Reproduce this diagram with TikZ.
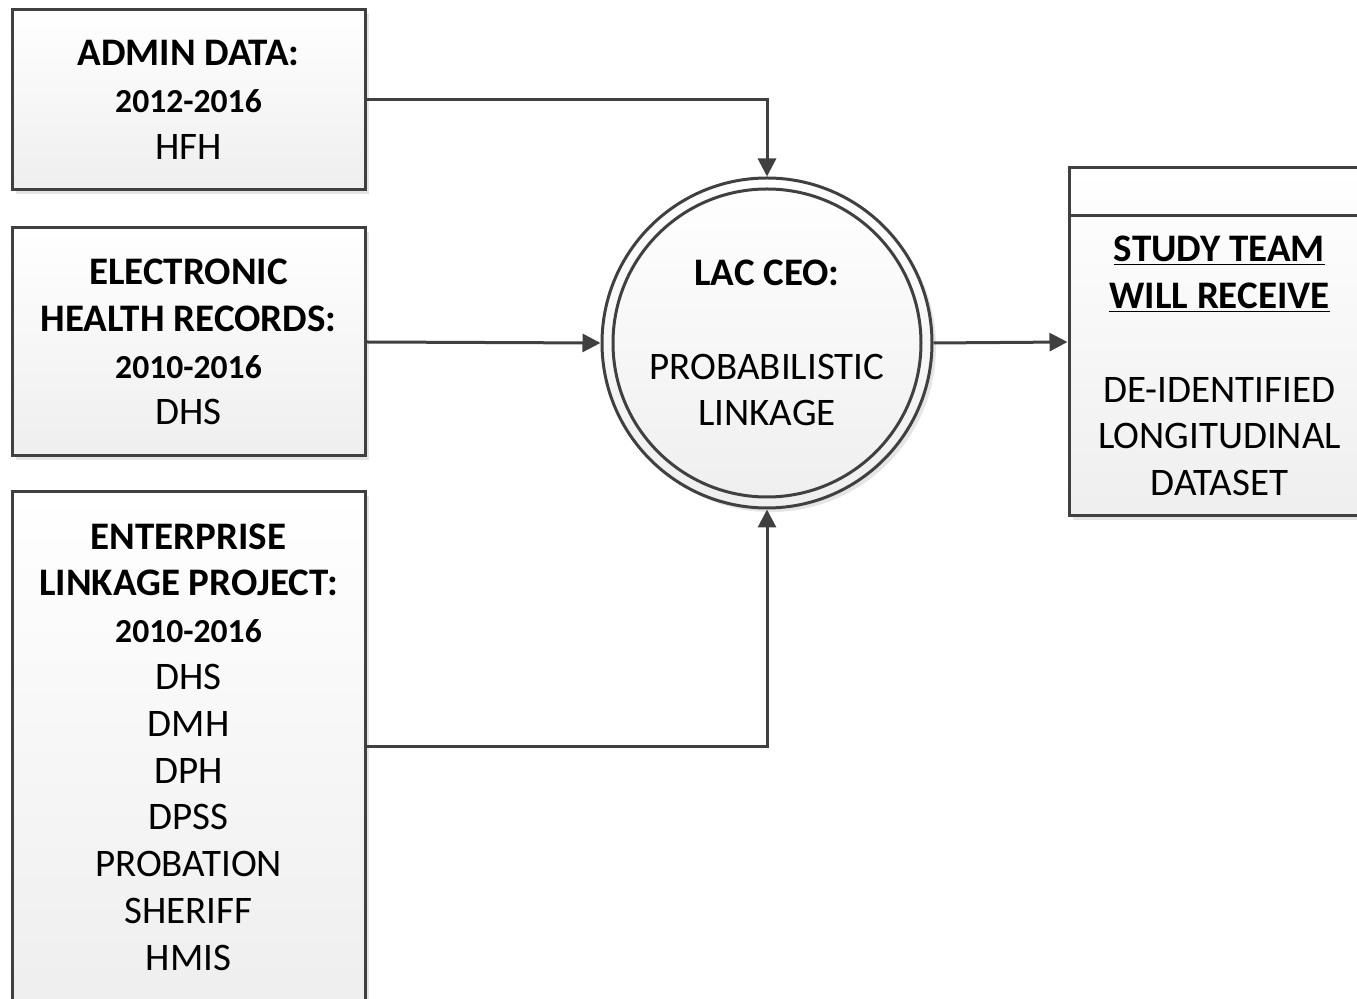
\documentclass[tikz,border=0pt]{standalone}
\usepackage{fontspec}
\setmainfont{Carlito}
\usetikzlibrary{arrows.meta,calc,shadows}
\definecolor{edge}{HTML}{404040}
\newcommand{\period}[1]{{\fontsize{16.8}{23.4}\selectfont\textbf{#1}}}
\tikzset{
    box/.style={draw=edge, line width=1.5pt, top color=white, bottom color=gray!13,
                drop shadow={shadow xshift=2pt, shadow yshift=-2pt, fill=black!40, opacity=0.25},
                inner sep=0pt, align=center, font=\fontsize{19.5}{23.4}\selectfont},
    store/.style={box, minimum width=176.5pt},
    proc/.style={box, circle, minimum size=165pt},
    flow/.style={-{Triangle[length=9pt,width=9pt]}, draw=edge, line width=1.5pt},
    note/.style={align=center, font=\fontsize{19.5}{23.4}\selectfont},
}

\begin{document}
\begin{tikzpicture}[x=0.5pt, y=-0.5pt]

    \useasboundingbox (0,0) rectangle (1357,999);
    \clip (0,0) rectangle (1357,999);

    % data sources
    \node[store, minimum height=90pt] (admin) at (188.5,100)
        {\textbf{ADMIN DATA:}\\ \period{2012-2016}\\ HFH};
    \node[store, minimum height=114pt] (ehr) at (188.5,342)
        {\textbf{ELECTRONIC}\\ \textbf{HEALTH RECORDS:}\\ \period{2010-2016}\\ DHS};
    \node[store, minimum height=255pt] (elp) at (188.5,747)
        {\textbf{ENTERPRISE}\\ \textbf{LINKAGE PROJECT:}\\ \period{2010-2016}\\ DHS\\ DMH\\ DPH\\ DPSS\\ PROBATION\\ SHERIFF\\ HMIS};

    % linkage process
    \node[proc] (ceo) at (767,343)
        {\textbf{LAC CEO:}\\[23.4pt] PROBABILISTIC\\ LINKAGE};
    \draw[edge, line width=1.5pt] (ceo.center) circle[radius=77pt];

    % output store
    \node[box, minimum width=150.5pt, minimum height=174pt] (team) at (1219.5,342) {};
    \draw[edge, line width=1.5pt] ($(team.north west)+(0,49)$) -- ($(team.north east)+(0,49)$);
    \node[note] (teamtxt) at ($(team.center)+(0,24)$)
        {\textbf{\underline{STUDY TEAM}}\\ \textbf{\underline{WILL RECEIVE}}\\[23.4pt] DE-IDENTIFIED\\ LONGITUDINAL\\ DATASET};

    \draw[flow] (admin.east) -| (ceo.north);
    \draw[flow] (ehr.east) -- (ceo.west);
    \draw[flow] (elp.east) -| (ceo.south);
    \draw[flow] (ceo.east) -- (team.west);

\end{tikzpicture}
\end{document}
